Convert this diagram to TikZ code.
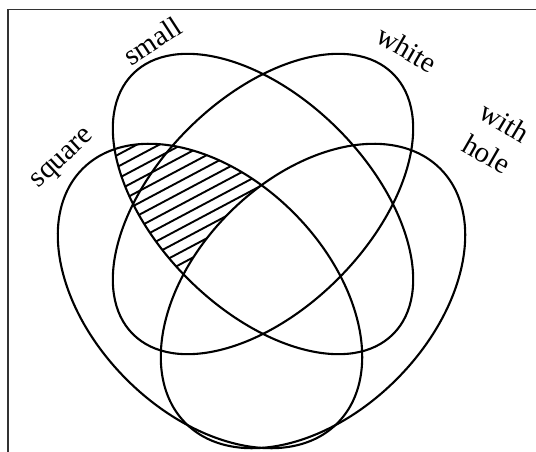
\documentclass[tikz,border=0pt]{standalone}
\usepackage{fontspec}
\setmainfont{Liberation Serif}
\begin{document}
\begin{tikzpicture}[x=1pt,y=-1pt,
  setline/.style={line width=2.1pt, black},
  hatchline/.style={line width=1.9pt, black},
  framelin/.style={line width=1.4pt, black!80},
  lab/.style={font=\fontsize{29}{31}\selectfont, inner sep=0pt}]
\useasboundingbox (0,0) rectangle (536,452);
\fill[white] (0,0) rectangle (536,452);
% frame (only top and left edges are visible)
\coordinate (fbl) at (8,452);
\coordinate (ftl) at (8,9.5);
\coordinate (ftr) at (536,9.5);
\draw[framelin] (fbl) -- (ftl) -- (ftr);
% hatched region: square and small, outside with hole
\begin{scope}[even odd rule]
  \clip[shift={(210,296)},rotate=-45] (0,0) ellipse [x radius=180pt, y radius=118pt];
  \clip[shift={(263,204)},rotate=-45] (0,0) ellipse [x radius=184pt, y radius=106pt];
  \clip[shift={(313,296)},rotate=45] (-900,-900) rectangle (900,900) (0,0) ellipse [x radius=180pt, y radius=118pt];
  \foreach \c in {150,160.5,...,400}
    \draw[hatchline] (0.469*\c-265, 0.883*\c+140.7) -- (0.469*\c+265, 0.883*\c-140.7);
\end{scope}
% the four sets
\draw[setline,shift={(210,296)},rotate=-45] (0,0) ellipse [x radius=180pt, y radius=118pt];
\draw[setline,shift={(313,296)},rotate=45] (0,0) ellipse [x radius=180pt, y radius=118pt];
\draw[setline,shift={(263,204)},rotate=-45] (0,0) ellipse [x radius=184pt, y radius=106pt];
\draw[setline,shift={(263,204)},rotate=45] (0,0) ellipse [x radius=184pt, y radius=106pt];
% labels
\node[lab,rotate=33] (lsmall) at (152,41) {small};
\node[lab,rotate=-30] (lwhite) at (407,49) {white};
\node[lab,rotate=43] (lsquare) at (64,160) {square};
\node[lab,rotate=-31] (lwith) at (505,122) {with};
\node[lab,rotate=-30] (lhole) at (487,154) {hole};
\end{tikzpicture}
\end{document}
